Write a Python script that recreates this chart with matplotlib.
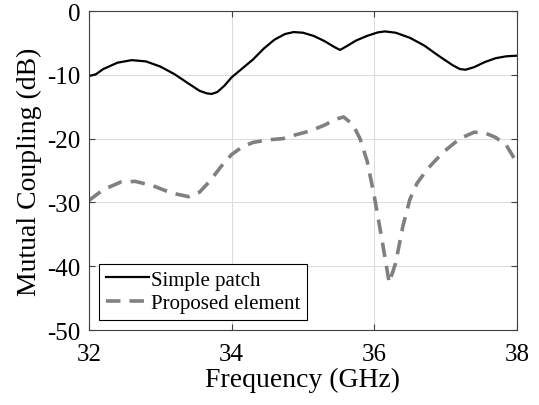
import matplotlib
matplotlib.use('Agg')
import matplotlib.pyplot as plt

plt.rcParams['font.family'] = ['Liberation Serif', 'DejaVu Serif']
plt.rcParams['axes.unicode_minus'] = False

# Simple patch (solid black)
freq_patch = [32.0, 32.1, 32.2, 32.4, 32.6, 32.8, 33.0, 33.2, 33.4, 33.55, 33.65, 33.72,
              33.8, 33.9, 34.0, 34.15, 34.3, 34.45, 34.6, 34.75, 34.87, 35.0, 35.15,
              35.3, 35.45, 35.52, 35.6, 35.75, 35.9, 36.05, 36.15, 36.3, 36.5, 36.7,
              36.9, 37.1, 37.2, 37.28, 37.4, 37.55, 37.7, 37.85, 38.0]
mc_patch = [-10.2, -9.9, -9.1, -8.1, -7.7, -7.9, -8.7, -9.9, -11.4, -12.5, -12.9, -13.0,
            -12.7, -11.7, -10.4, -9.0, -7.6, -5.9, -4.5, -3.6, -3.3, -3.4, -3.9,
            -4.7, -5.7, -6.1, -5.6, -4.6, -3.9, -3.35, -3.2, -3.4, -4.2, -5.4,
            -7.0, -8.5, -9.1, -9.2, -8.8, -8.0, -7.4, -7.1, -7.0]

# Proposed element (dashed gray)
freq_prop = [32.0, 32.2, 32.45, 32.65, 32.9, 33.15, 33.4, 33.55, 33.7, 33.85, 34.0,
             34.15, 34.3, 34.5, 34.72, 34.9, 35.1, 35.3, 35.45, 35.57, 35.7, 35.8,
             35.9, 36.0, 36.1, 36.21, 36.3, 36.4, 36.5, 36.6, 36.75, 36.97, 37.2,
             37.4, 37.55, 37.7, 37.85, 38.0]
mc_prop = [-29.7, -28.0, -26.8, -26.7, -27.4, -28.5, -29.1, -28.4, -26.6, -24.4, -22.5,
           -21.3, -20.6, -20.2, -20.0, -19.4, -18.8, -17.9, -17.0, -16.6, -17.8, -20.0,
           -23.5, -29.0, -35.3, -42.6, -39.5, -33.8, -29.5, -27.0, -24.7, -22.1, -20.0,
           -19.0, -19.1, -19.8, -21.0, -23.8]

fig = plt.figure(figsize=(5.39, 4.06), dpi=100)
ax = fig.add_axes([0.165, 0.1847, 0.794, 0.7857])

ax.plot(freq_patch, mc_patch, color='black', lw=1.6, label='Simple patch')
ax.plot(freq_prop, mc_prop, color='#808080', lw=2.6, dashes=(4, 2.5),
        label='Proposed element')

ax.set_xlim(32, 38)
ax.set_ylim(-50, 0)
ax.set_xticks([32, 34, 36, 38])
ax.set_yticks([-50, -40, -30, -20, -10, 0])
ax.grid(True, color='#dcdcdc', lw=0.8)
ax.set_axisbelow(True)
ax.tick_params(direction='in', top=True, right=True, labelsize=18,
               color='#404040', length=4)
ax.tick_params(axis='x', pad=9)
ax.tick_params(axis='y', pad=6)
for s in ax.spines.values():
    s.set_color('#404040')
    s.set_linewidth(0.8)

ax.set_xlabel('Frequency (GHz)', fontsize=20, labelpad=2)
ax.set_ylabel('Mutual Coupling (dB)', fontsize=20, labelpad=4)

leg = ax.legend(loc='lower left', fontsize=15, fancybox=False, framealpha=1,
                edgecolor='black', handlelength=2.1, handletextpad=0.1,
                labelspacing=0.2, borderpad=0.3, borderaxespad=0.5)
leg.get_frame().set_linewidth(0.8)

fig.savefig('out.png', dpi=100)
